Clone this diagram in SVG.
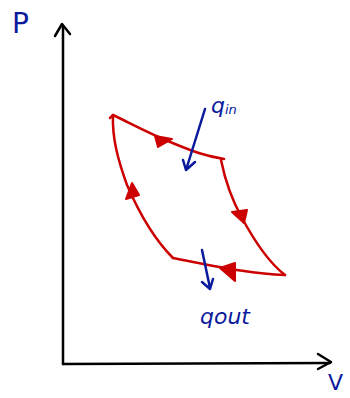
<svg xmlns="http://www.w3.org/2000/svg" width="350" height="398" viewBox="0 0 350 398">
<style>
.ax{fill:none;stroke:#000;stroke-width:2.5;stroke-linecap:round;stroke-linejoin:round}
.cy{fill:none;stroke:#cc0000;stroke-width:2.5;stroke-linecap:round;stroke-linejoin:round}
.ah{fill:#cc0000;stroke:#cc0000;stroke-width:2;stroke-linejoin:round}
.bl{fill:none;stroke:#0a1a9c;stroke-width:2.5;stroke-linecap:round;stroke-linejoin:round}
.lb{fill:#0a1a9c;font-family:"DejaVu Sans",sans-serif}
</style>
<rect width="350" height="398" fill="#fff"/>
<g id="axes">
<path class="ax" d="M63,364 L63,26"/>
<path class="ax" d="M55,36 L62,24 L70,34"/>
<path class="ax" d="M63,364 L330,363"/>
<path class="ax" d="M318,354 L331,362 L318,369"/>
</g>
<g id="label-P"><text class="lb" x="12" y="33" font-size="28">P</text></g>
<g id="label-V"><text class="lb" x="328" y="390" font-size="22">V</text></g>
<g id="connectors">
<path class="cy" d="M110,118 L113,115 C128,122 150,134 175,144 C192,151 205,156 224,159 L210,156"/>
<path class="cy" d="M221,160 C225,180 232,200 242,218 C255,242 268,262 285,275"/>
<path class="cy" d="M285,275 C250,274 215,266 173,258"/>
<path class="cy" d="M173,258 C155,240 140,215 127,185 C118,160 112,138 113,115"/>
<polygon class="ah" points="155,136 172,139 158,147"/>
<polygon class="ah" points="232,212 247,210 244,223"/>
<polygon class="ah" points="220,268 235,263 235,281"/>
<polygon class="ah" points="126,199 132,183 139,195"/>
</g>
<g id="qin">
<path class="bl" d="M205,109 L186,170 M183,160 L186,170 L195,162"/>
<text class="lb" x="211" y="113" font-size="22" font-style="italic">q</text>
<text class="lb" x="225" y="114" font-size="13" font-style="italic">in</text>
</g>
<g id="qout">
<path class="bl" d="M202,250 L210,288 M202,282 L210,289 L213,279"/>
<text class="lb" x="200" y="324" font-size="22" font-style="italic">qout</text>
</g>
</svg>
